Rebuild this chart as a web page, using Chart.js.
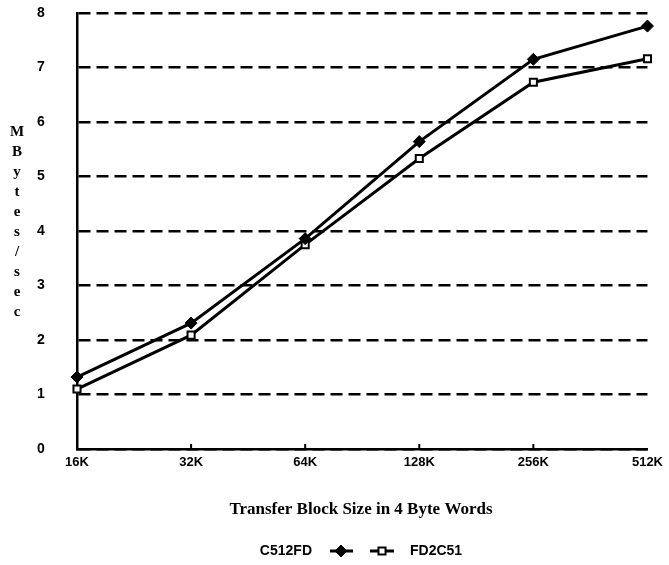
<!DOCTYPE html>
<html lang="en">
<head>
<meta charset="UTF-8">
<title>Transfer rate</title>
<script src="https://cdn.jsdelivr.net/npm/chart.js"></script>
<style>
  html, body { margin: 0; padding: 0; background: #fff; }
  #wrap { width: 669px; height: 565px; }
</style>
</head>
<body>
<div id="wrap"><canvas id="myChart" width="669" height="565"></canvas></div>
<script>
const blockSizes = ['16K', '32K', '64K', '128K', '256K', '512K'];
const c512fd = [1.32, 2.31, 3.86, 5.64, 7.15, 7.76];
const fd2c51 = [1.1, 2.09, 3.75, 5.33, 6.73, 7.16];
const yTitle = ['M', 'B', 'y', 't', 'e', 's', '/', 's', 'e', 'c'];
const xTitle = 'Transfer Block Size in 4 Byte Words';

// draws the stacked y title, x title, small axis ticks and the legend
const extras = {
    id: 'extras',
    afterDraw(chart) {
        const ctx = chart.ctx;
        const xs = chart.scales.x;
        const area = chart.chartArea;
        ctx.save();
        ctx.fillStyle = '#000';
        ctx.strokeStyle = '#000';
        ctx.textAlign = 'center';
        ctx.textBaseline = 'middle';

        // little inward ticks on the x axis
        ctx.lineWidth = 2;
        ctx.beginPath();
        for (let i = 1; i < blockSizes.length - 1; i++) {
            const px = xs.getPixelForValue(i);
            ctx.moveTo(px, area.bottom);
            ctx.lineTo(px, area.bottom - 5);
        }
        ctx.stroke();

        ctx.font = 'bold 15px "Liberation Serif"';
        yTitle.forEach((ch, i) => ctx.fillText(ch, 17, 132 + i * 20));

        ctx.font = 'bold 17px "Liberation Serif"';
        ctx.fillText(xTitle, 361, 510);

        // legend
        const ly = 551;
        ctx.font = 'bold 14px "Liberation Sans"';
        ctx.textAlign = 'right';
        ctx.fillText('C512FD', 312, ly);
        ctx.textAlign = 'left';
        ctx.fillText('FD2C51', 410, ly);

        ctx.lineWidth = 3;
        ctx.beginPath();
        ctx.moveTo(330, ly); ctx.lineTo(353, ly);
        ctx.moveTo(370, ly); ctx.lineTo(394, ly);
        ctx.stroke();
        ctx.fillStyle = '#000';
        ctx.lineWidth = 1;
        Chart.helpers.drawPoint(ctx, { pointStyle: 'rectRot', radius: 6, borderWidth: 1 }, 341, ly);
        ctx.fillStyle = '#fff';
        ctx.lineWidth = 2;
        Chart.helpers.drawPoint(ctx, { pointStyle: 'rect', radius: 5, borderWidth: 2 }, 382, ly);
        ctx.restore();
    }
};

const ctx = document.getElementById('myChart').getContext('2d');
new Chart(ctx, {
    type: 'line',
    data: {
        labels: blockSizes,
        datasets: [
            {
                label: 'C512FD',
                data: c512fd,
                borderColor: '#000',
                backgroundColor: '#000',
                borderWidth: 3,
                pointStyle: 'rectRot',
                pointRadius: 6,
                pointBorderWidth: 1,
                fill: false
            },
            {
                label: 'FD2C51',
                data: fd2c51,
                borderColor: '#000',
                backgroundColor: '#fff',
                borderWidth: 3,
                pointStyle: 'rect',
                pointRadius: 5,
                pointBorderWidth: 2,
                fill: false
            }
        ]
    },
    options: {
        responsive: false,
        animation: false,
        layout: { padding: { top: 13, right: 21, left: 37, bottom: 0 } },
        plugins: { legend: { display: false }, tooltip: { enabled: false } },
        scales: {
            x: {
                offset: false,
                grid: { display: false, drawTicks: false },
                border: { color: '#000', width: 2.5 },
                ticks: {
                    color: '#000',
                    padding: 6,
                    maxRotation: 0,
                    font: { family: '"Liberation Sans"', weight: 'bold', size: 13 }
                },
                afterFit(scale) { scale.height = 116; }
            },
            y: {
                min: 0,
                max: 8,
                ticks: {
                    stepSize: 1,
                    color: '#000',
                    padding: 2,
                    crossAlign: 'far',
                    font: { family: '"Liberation Sans"', weight: 'bold', size: 14 }
                },
                grid: { color: '#000', lineWidth: 2.5, drawTicks: false },
                border: { color: '#000', width: 2.5, dash: [12, 6] },
                afterFit(scale) { scale.width = 40; }
            }
        }
    },
    plugins: [extras]
});
</script>
</body>
</html>
